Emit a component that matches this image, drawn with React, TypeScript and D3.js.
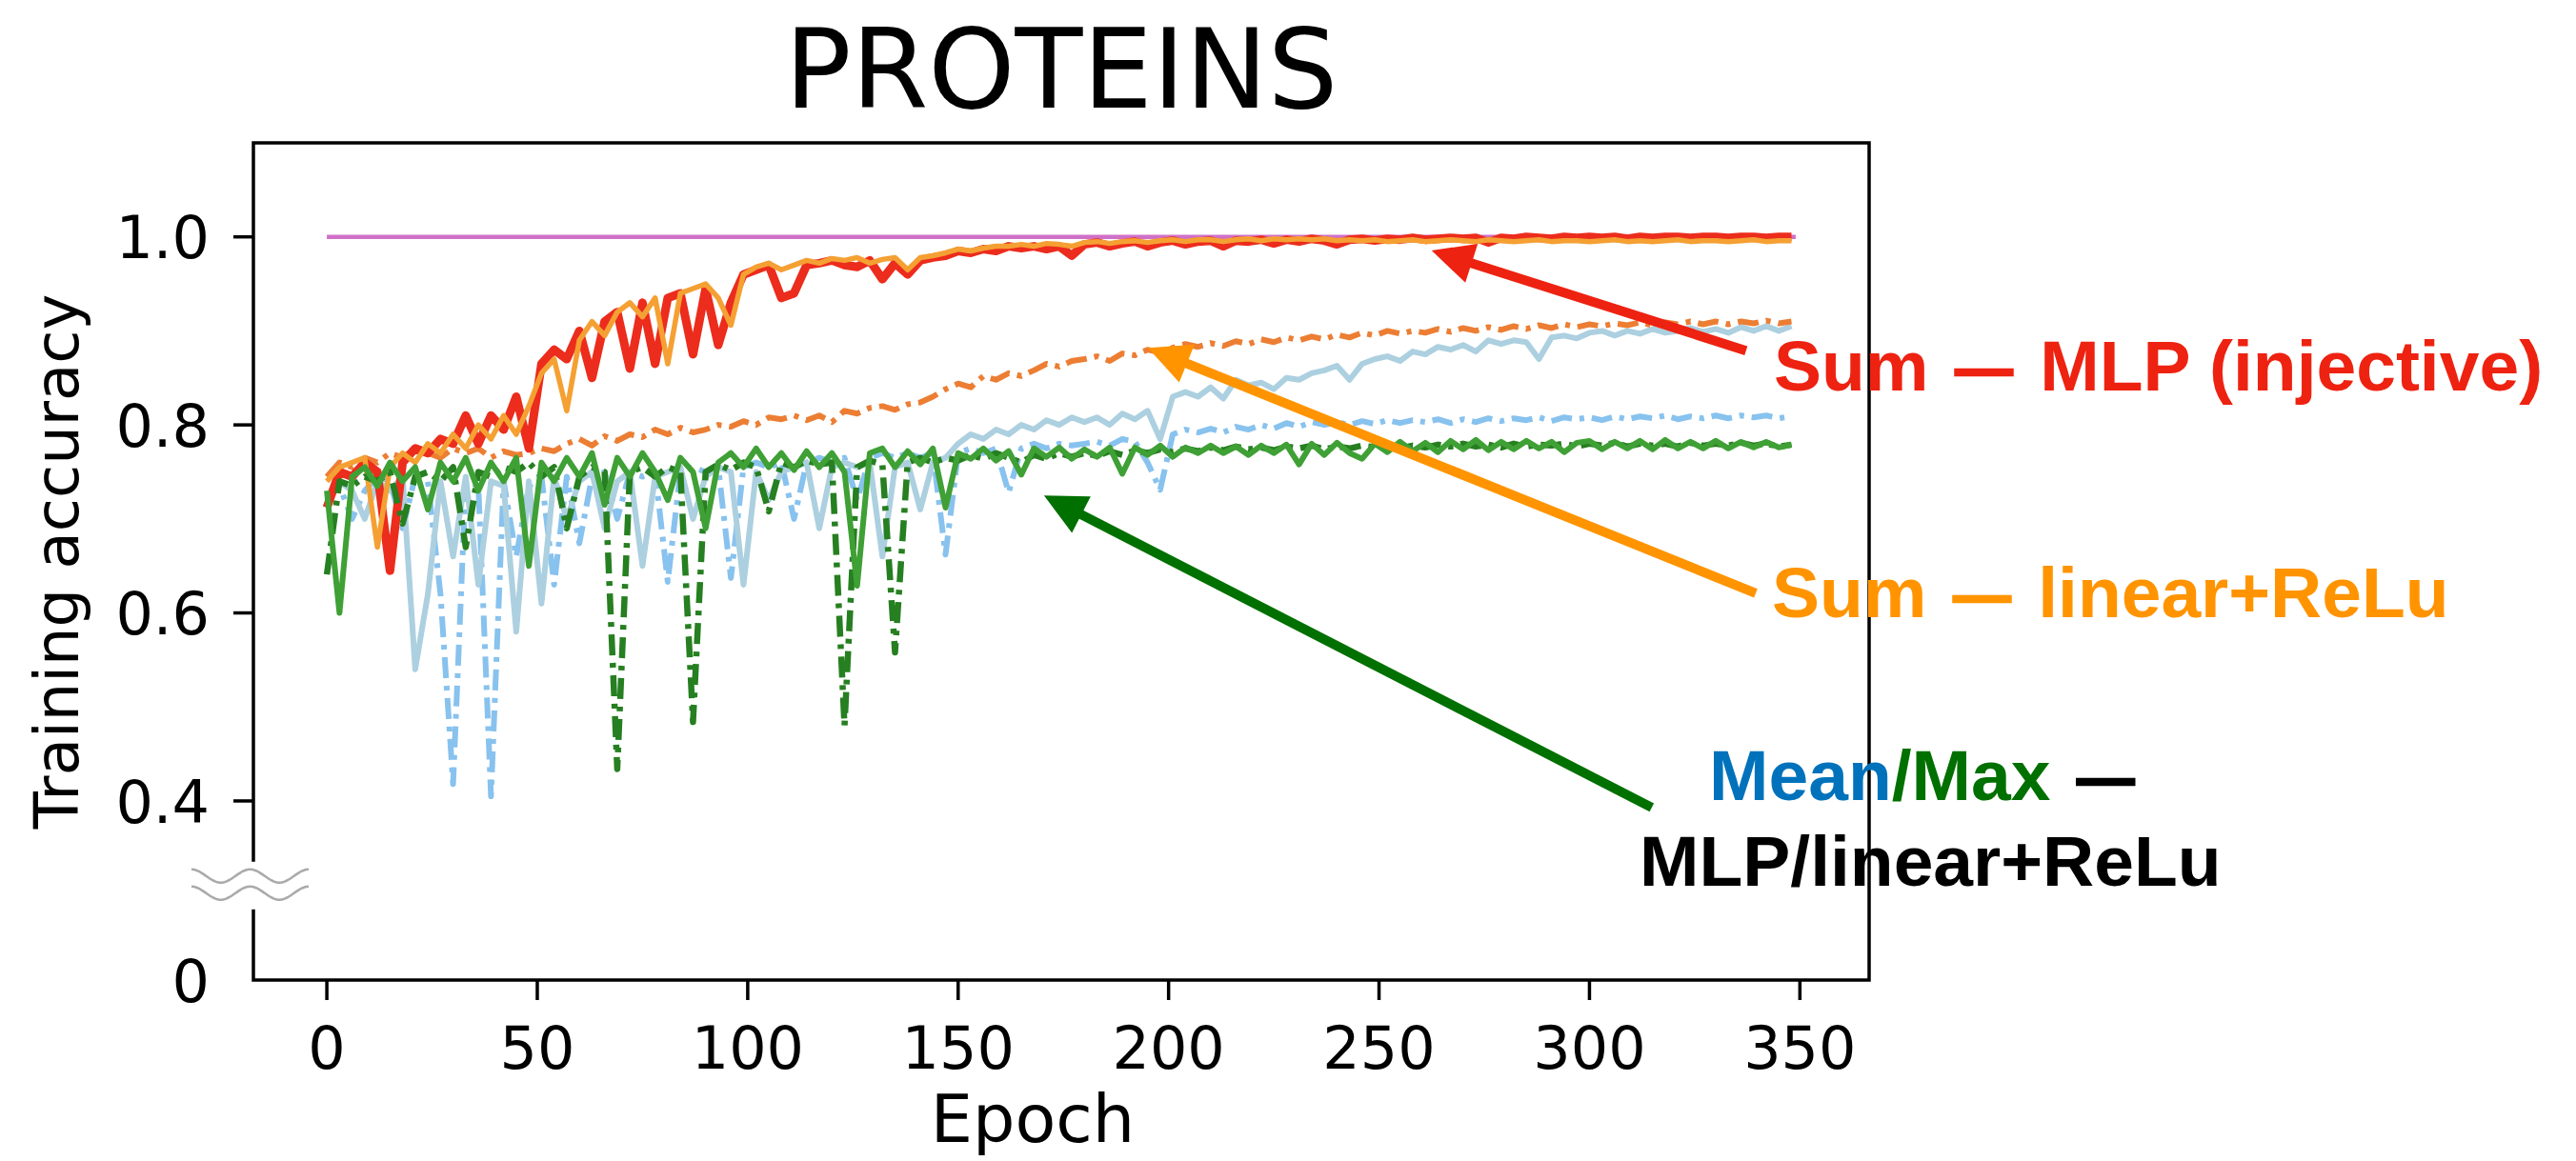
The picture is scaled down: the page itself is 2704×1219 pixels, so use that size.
import React from 'react';
import * as d3 from 'd3';

// epochs are sampled every 3rd epoch (0 .. 348)
const EPOCH_STEP = 3;
const epochs = d3.range(117).map((i) => i * EPOCH_STEP);

const xTicks = [0, 50, 100, 150, 200, 250, 300, 350];
const yTicks = [0.4, 0.6, 0.8, 1.0];

// WL subtree (constant)
const wlEpochs = [0, 349];
const wlSubtree = [1.0, 1.0];

// Sum - MLP (eps), red
const sumMlpEps = [
  0.712, 0.75, 0.745, 0.76, 0.75, 0.645, 0.76, 0.775, 0.77, 0.785,
  0.78, 0.81, 0.78, 0.81, 0.795, 0.83, 0.775, 0.865, 0.88, 0.87,
  0.9, 0.85, 0.91, 0.92, 0.86, 0.93, 0.865, 0.935, 0.94, 0.875,
  0.945, 0.885, 0.93, 0.96, 0.965, 0.97, 0.935, 0.94, 0.97, 0.972,
  0.975, 0.97, 0.968, 0.975, 0.955, 0.972, 0.96, 0.975, 0.978, 0.98,
  0.985, 0.983, 0.987, 0.985, 0.99, 0.988, 0.99, 0.987, 0.99, 0.98,
  0.992, 0.994, 0.99, 0.993, 0.995, 0.99, 0.994, 0.996, 0.992, 0.995,
  0.996, 0.99, 0.996, 0.995, 0.997, 0.993, 0.997, 0.995, 0.998, 0.996,
  0.992, 0.997, 0.998, 0.996, 0.998, 0.997, 0.999, 0.997, 0.998, 0.999,
  0.998, 0.999, 0.994, 0.999, 0.998, 1.0, 0.999, 0.998, 1.0, 0.999,
  1.0, 0.999, 1.0, 0.998, 1.0, 0.999, 1.0, 1.0, 0.999, 1.0,
  1.0, 0.999, 1.0, 1.0, 0.999, 1.0, 1.0,
];

// Sum - MLP (0), light orange
const sumMlp0 = [
  0.74, 0.755, 0.76, 0.765, 0.67, 0.755, 0.77, 0.76, 0.78, 0.77,
  0.79, 0.775, 0.8, 0.785, 0.81, 0.79, 0.82, 0.855, 0.87, 0.815,
  0.89, 0.91, 0.895, 0.92, 0.93, 0.915, 0.935, 0.865, 0.94, 0.945,
  0.95, 0.935, 0.906, 0.96, 0.968, 0.972, 0.965, 0.97, 0.975, 0.972,
  0.977, 0.975, 0.978, 0.972, 0.976, 0.978, 0.965, 0.978, 0.98, 0.983,
  0.987, 0.985, 0.988, 0.99, 0.99, 0.992, 0.99, 0.993, 0.992, 0.99,
  0.994, 0.995, 0.993, 0.995, 0.996, 0.994, 0.996, 0.997, 0.995, 0.997,
  0.997, 0.995, 0.997, 0.998, 0.996, 0.998, 0.997, 0.998, 0.997, 0.998,
  0.996, 0.997, 0.996, 0.997, 0.995, 0.996, 0.997, 0.995, 0.996, 0.997,
  0.996, 0.995, 0.997, 0.996, 0.995, 0.996, 0.997, 0.995, 0.996, 0.996,
  0.995, 0.996, 0.997, 0.995, 0.996, 0.995, 0.996, 0.997, 0.995, 0.996,
  0.996, 0.995, 0.996, 0.997, 0.995, 0.996, 0.996,
];

// Sum - linear+ReLU, dash-dot orange
const sumLinear = [
  0.745, 0.76, 0.755, 0.765, 0.76, 0.77, 0.765, 0.775, 0.77, 0.765,
  0.775, 0.77, 0.775, 0.765, 0.772, 0.768, 0.77, 0.775, 0.772, 0.78,
  0.785, 0.778, 0.788, 0.783, 0.79, 0.787, 0.795, 0.79, 0.797, 0.792,
  0.795, 0.8, 0.798, 0.804, 0.8, 0.808, 0.806, 0.81, 0.805, 0.81,
  0.803, 0.815, 0.812, 0.818, 0.82, 0.816, 0.822, 0.824, 0.83, 0.838,
  0.844, 0.84, 0.852, 0.848, 0.855, 0.852, 0.858, 0.865, 0.862, 0.868,
  0.87, 0.873, 0.868, 0.876, 0.874, 0.88, 0.877, 0.882, 0.886, 0.883,
  0.887, 0.884, 0.889, 0.886, 0.891, 0.888, 0.893, 0.89, 0.894, 0.891,
  0.896, 0.893, 0.898, 0.895, 0.9, 0.897, 0.9, 0.898, 0.902, 0.899,
  0.903, 0.9, 0.904, 0.901, 0.905, 0.902, 0.906, 0.903, 0.907, 0.904,
  0.907, 0.905, 0.908, 0.906, 0.909, 0.906, 0.909, 0.907, 0.91, 0.907,
  0.91, 0.907, 0.91, 0.908, 0.911, 0.908, 0.91,
];

// Mean - MLP, light blue
const meanMlp = [
  0.72, 0.74, 0.73, 0.7, 0.74, 0.73, 0.745, 0.54, 0.62, 0.74,
  0.66, 0.745, 0.63, 0.74, 0.735, 0.58, 0.74, 0.61, 0.745, 0.7,
  0.74, 0.75, 0.69, 0.74, 0.75, 0.65, 0.745, 0.75, 0.755, 0.7,
  0.745, 0.755, 0.75, 0.63, 0.75, 0.72, 0.75, 0.755, 0.76, 0.69,
  0.755, 0.76, 0.755, 0.76, 0.66, 0.755, 0.76, 0.71, 0.76, 0.765,
  0.78, 0.79, 0.785, 0.795, 0.79, 0.8, 0.795, 0.805, 0.8, 0.808,
  0.803, 0.808, 0.8, 0.812, 0.806, 0.815, 0.785, 0.83, 0.835, 0.83,
  0.84, 0.828, 0.848, 0.842, 0.845, 0.838, 0.85, 0.848, 0.855, 0.858,
  0.863, 0.848, 0.865, 0.87, 0.873, 0.868, 0.878, 0.875, 0.883, 0.88,
  0.885, 0.878, 0.89, 0.886, 0.89, 0.888, 0.87, 0.893, 0.895, 0.892,
  0.898, 0.9, 0.895, 0.9, 0.897, 0.902, 0.898, 0.9, 0.903, 0.899,
  0.902, 0.898, 0.904, 0.9, 0.905, 0.9, 0.905,
];

// Mean - linear+ReLU, dash-dot sky blue
const meanLinear = [
  0.72, 0.735, 0.7, 0.73, 0.745, 0.74, 0.69, 0.745, 0.74, 0.62,
  0.418, 0.74, 0.735, 0.405, 0.74, 0.66, 0.735, 0.745, 0.63, 0.745,
  0.674, 0.745, 0.75, 0.7, 0.75, 0.745, 0.75, 0.633, 0.75, 0.755,
  0.75, 0.755, 0.637, 0.755, 0.76, 0.755, 0.76, 0.7, 0.76, 0.765,
  0.76, 0.765, 0.72, 0.765, 0.77, 0.765, 0.77, 0.765, 0.77, 0.662,
  0.77, 0.775, 0.77, 0.775, 0.728, 0.775, 0.78, 0.775, 0.78, 0.778,
  0.78, 0.782, 0.778, 0.785, 0.782, 0.76, 0.731, 0.79, 0.795, 0.792,
  0.796, 0.792, 0.798, 0.795, 0.8, 0.796, 0.802, 0.798, 0.803, 0.8,
  0.803, 0.8, 0.804, 0.801, 0.805, 0.802, 0.805, 0.803, 0.806, 0.802,
  0.806, 0.803, 0.807, 0.804, 0.807, 0.805, 0.808, 0.804, 0.808, 0.806,
  0.808, 0.805, 0.809, 0.806, 0.809, 0.807, 0.81, 0.806, 0.809, 0.807,
  0.81, 0.807, 0.81, 0.808, 0.81, 0.807, 0.809,
];

// Max - MLP, green
const maxMlp = [
  0.73, 0.6, 0.745, 0.755, 0.735, 0.76, 0.74, 0.755, 0.71, 0.76,
  0.74, 0.765, 0.73, 0.76, 0.74, 0.765, 0.65, 0.76, 0.74, 0.765,
  0.745, 0.77, 0.715, 0.765, 0.745, 0.77, 0.75, 0.72, 0.765, 0.75,
  0.69, 0.76, 0.77, 0.755, 0.775, 0.755, 0.77, 0.752, 0.772, 0.755,
  0.77, 0.75, 0.629, 0.77, 0.775, 0.755, 0.772, 0.758, 0.775, 0.712,
  0.77, 0.764, 0.775, 0.762, 0.772, 0.747, 0.775, 0.766, 0.776, 0.764,
  0.774, 0.766, 0.776, 0.748, 0.776, 0.768, 0.778, 0.766, 0.776, 0.77,
  0.778, 0.77, 0.777, 0.768, 0.778, 0.77, 0.779, 0.758, 0.78, 0.768,
  0.781, 0.77, 0.764, 0.78, 0.771, 0.782, 0.772, 0.781, 0.771, 0.783,
  0.774, 0.784, 0.773, 0.782, 0.774, 0.783, 0.775, 0.782, 0.771, 0.781,
  0.783, 0.774, 0.782, 0.775, 0.783, 0.774, 0.784, 0.775, 0.782, 0.775,
  0.783, 0.775, 0.782, 0.776, 0.782, 0.776, 0.779,
];

// Max - linear+ReLU, dash-dot dark green
const maxLinear = [
  0.641, 0.74, 0.735, 0.745, 0.74, 0.75, 0.695, 0.745, 0.75, 0.74,
  0.755, 0.67, 0.75, 0.745, 0.755, 0.75, 0.76, 0.745, 0.755, 0.69,
  0.745, 0.755, 0.75, 0.434, 0.75, 0.755, 0.745, 0.755, 0.75, 0.484,
  0.75, 0.758, 0.752, 0.76, 0.755, 0.708, 0.76, 0.755, 0.762, 0.758,
  0.76, 0.48, 0.755, 0.762, 0.758, 0.558, 0.76, 0.765, 0.76, 0.765,
  0.762, 0.768, 0.764, 0.77, 0.765, 0.76, 0.768, 0.764, 0.77, 0.766,
  0.77, 0.767, 0.772, 0.768, 0.773, 0.77, 0.774, 0.771, 0.775, 0.772,
  0.776, 0.773, 0.777, 0.774, 0.776, 0.773, 0.777, 0.775, 0.778, 0.774,
  0.777, 0.775, 0.778, 0.776, 0.779, 0.775, 0.778, 0.776, 0.779, 0.777,
  0.78, 0.777, 0.779, 0.776, 0.78, 0.777, 0.779, 0.778, 0.78, 0.777,
  0.78, 0.778, 0.781, 0.777, 0.78, 0.778, 0.78, 0.777, 0.781, 0.778,
  0.78, 0.778, 0.781, 0.778, 0.78, 0.777, 0.779,
];

const DASHDOT = '22 8 5 8';

// drawing order: first is bottom
const series = [
  { key: 'wl', xs: wlEpochs, ys: wlSubtree, color: '#d070c8', width: 4.5, dash: null },
  { key: 'meanLinear', xs: epochs, ys: meanLinear, color: '#88c2ee', width: 6, dash: DASHDOT },
  { key: 'meanMlp', xs: epochs, ys: meanMlp, color: '#acd0df', width: 6, dash: null },
  { key: 'sumLinear', xs: epochs, ys: sumLinear, color: '#ec7e34', width: 6, dash: DASHDOT },
  { key: 'sumMlpEps', xs: epochs, ys: sumMlpEps, color: '#ec2c1c', width: 9, dash: null },
  { key: 'sumMlp0', xs: epochs, ys: sumMlp0, color: '#f5a033', width: 5.5, dash: null },
  { key: 'maxLinear', xs: epochs, ys: maxLinear, color: '#267f20', width: 6.5, dash: DASHDOT },
  { key: 'maxMlp', xs: epochs, ys: maxMlp, color: '#3fa035', width: 6, dash: null },
];

// arrows in data coordinates: [epoch, accuracy]
const arrows = [
  { color: '#ee2211', tail: [337.2, 0.879], tip: [262.5, 0.9855] },
  { color: '#ff9400', tail: [339.5, 0.621], tip: [195.1, 0.882] },
  { color: '#007000', tail: [314.8, 0.393], tip: [170.4, 0.725] },
];

const W = 2704;
const H = 1219;
const plot = { left: 266, right: 1962, top: 150, bottom: 1029 };
const TICK_FONT = '"DejaVu Sans", Verdana, sans-serif';
const NOTE_FONT = '"Liberation Sans", Arial, Helvetica, sans-serif';

const Arrow = ({ x1, y1, x2, y2, color }) => {
  const dx = x2 - x1;
  const dy = y2 - y1;
  const len = Math.hypot(dx, dy);
  const ux = dx / len;
  const uy = dy / len;
  const headLen = 44;
  const headHalf = 21.5;
  const bx = x2 - ux * headLen;
  const by = y2 - uy * headLen;
  const pts = [
    [x2, y2],
    [bx - uy * headHalf, by + ux * headHalf],
    [bx + uy * headHalf, by - ux * headHalf],
  ];
  return (
    <g>
      <line x1={x1} y1={y1} x2={bx + ux * 2} y2={by + uy * 2} stroke={color} strokeWidth={10} />
      <polygon points={pts.map((p) => p.join(',')).join(' ')} fill={color} />
    </g>
  );
};

// short, heavy dash used in the annotations
const Dash = ({ color }) => (
  <tspan fontSize={60} dx={7} dy={-3} fill={color} stroke={color} strokeWidth={2.5}>
    —
  </tspan>
);

export default function App() {
  const x = d3.scaleLinear().domain([-17.45, 366.45]).range([plot.left, plot.right]);
  const y = d3.scaleLinear().domain([0.2095, 1.1]).range([plot.bottom, plot.top]);
  const fmt = d3.format('.1f');

  const pathFor = (s) =>
    d3
      .line<number>()
      .x((_, i) => x(s.xs[i]))
      .y((d) => y(d))(s.ys);

  // axis break symbol (two small waves) around accuracy 0.31
  const breakY = y(0.31);
  const waveX0 = 201;
  const waveW = 123;
  const wave = (offset) =>
    d3
      .line<number>()
      .x((t) => waveX0 + t * waveW)
      .y((t) => breakY - 17 + offset + 14 - (14 * (1 + Math.cos(4 * Math.PI * t))) / 2)
      .curve(d3.curveBasis)(d3.range(0, 1.0001, 0.02));

  return (
    <svg
      width={W}
      height={H}
      style={{ position: 'absolute', left: 0, top: 0, display: 'block', background: '#fff' }}
    >
      <text
        x={(plot.left + plot.right) / 2}
        y={113}
        textAnchor="middle"
        fontFamily={TICK_FONT}
        fontSize={116}
      >
        PROTEINS
      </text>

      <g>
        {series.map((s) => (
          <path
            key={s.key}
            d={pathFor(s)}
            fill="none"
            stroke={s.color}
            strokeWidth={s.width}
            strokeDasharray={s.dash || undefined}
            strokeLinejoin="round"
          />
        ))}
      </g>

      {/* frame */}
      <rect
        x={plot.left}
        y={plot.top}
        width={plot.right - plot.left}
        height={plot.bottom - plot.top}
        fill="none"
        stroke="#000"
        strokeWidth={3.5}
      />

      {/* y axis */}
      {yTicks.map((t) => (
        <g key={t}>
          <line x1={plot.left - 21} x2={plot.left} y1={y(t)} y2={y(t)} stroke="#000" strokeWidth={3.5} />
          <text x={220} y={y(t) + 22.6} textAnchor="end" fontFamily={TICK_FONT} fontSize={62}>
            {fmt(t)}
          </text>
        </g>
      ))}
      <text x={220} y={plot.bottom + 22.6} textAnchor="end" fontFamily={TICK_FONT} fontSize={62}>
        0
      </text>

      {/* axis break */}
      <rect x={waveX0 - 2} y={breakY - 25} width={waveW + 4} height={50} fill="#fff" />
      <path d={wave(0)} fill="none" stroke="#aaa" strokeWidth={2.5} />
      <path d={wave(18)} fill="none" stroke="#aaa" strokeWidth={2.5} />

      {/* x axis */}
      {xTicks.map((t) => (
        <g key={t}>
          <line x1={x(t)} x2={x(t)} y1={plot.bottom} y2={plot.bottom + 21} stroke="#000" strokeWidth={3.5} />
          <text x={x(t)} y={1122} textAnchor="middle" fontFamily={TICK_FONT} fontSize={62}>
            {t}
          </text>
        </g>
      ))}

      <text x={1084} y={1199} textAnchor="middle" fontFamily={TICK_FONT} fontSize={70}>
        Epoch
      </text>
      <text
        transform={`translate(82,${(plot.top + plot.bottom) / 2}) rotate(-90)`}
        textAnchor="middle"
        fontFamily={TICK_FONT}
        fontSize={64}
      >
        Training accuracy
      </text>

      {/* annotations */}
      {arrows.map((a, i) => (
        <Arrow
          key={i}
          x1={x(a.tail[0])}
          y1={y(a.tail[1])}
          x2={x(a.tip[0])}
          y2={y(a.tip[1])}
          color={a.color}
        />
      ))}

      <g fontFamily={NOTE_FONT} fontWeight="bold" fontSize={75}>
        <text x={1862} y={410} fill="#ee2211">
          <tspan>{'Sum '}</tspan>
          <Dash color="#ee2211" />
          <tspan dx={8} dy={3}>{' MLP (injective)'}</tspan>
        </text>
        <text x={1860} y={648} fill="#ff9400">
          <tspan>{'Sum '}</tspan>
          <Dash color="#ff9400" />
          <tspan dx={8} dy={3}>{' linear+ReLu'}</tspan>
        </text>
        <text x={1794} y={840}>
          <tspan fill="#0072bb">Mean</tspan>
          <tspan fill="#007000">/Max</tspan>
          <tspan fill="#000">{' '}</tspan>
          <Dash color="#000" />
        </text>
        <text x={1721} y={930} fill="#000">
          MLP/linear+ReLu
        </text>
      </g>
    </svg>
  );
}
